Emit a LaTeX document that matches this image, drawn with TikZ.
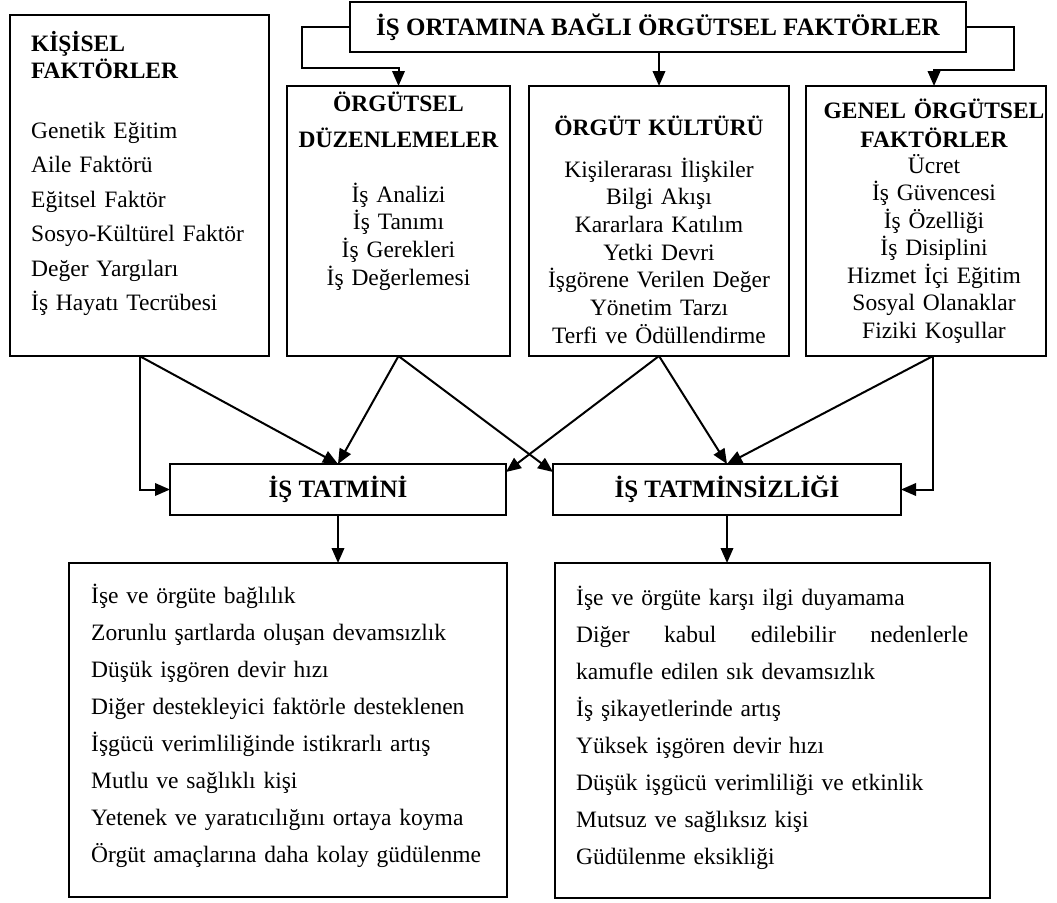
\documentclass[tikz,border=0pt]{standalone}
\usepackage{fontspec}
\setmainfont{Liberation Serif}
\usetikzlibrary{arrows.meta}

\tikzset{
  box/.style={draw, line width=2pt, rectangle, inner sep=0pt, outer sep=0pt, anchor=north west},
  boxtitle/.style={box, font=\bfseries\fontsize{25}{30}\selectfont},
  hd/.style={inner sep=0pt, outer sep=0pt, align=center, text width=#1,
             font=\bfseries\fontsize{23.5}{28}\selectfont},
  conn/.style={line width=2pt, -{Triangle[length=15pt,width=12.5pt]}},
}

\begin{document}
\begin{tikzpicture}[x=1pt, y=-1pt]
\useasboundingbox (0,0) rectangle (1057,902);

% --- frames ---------------------------------------------------------------
\node[boxtitle, minimum width=616pt, minimum height=50pt] (top) at (350,2)
  {İŞ ORTAMINA BAĞLI ÖRGÜTSEL FAKTÖRLER};
\node[box, minimum width=259pt, minimum height=341pt] (kis) at (10,15) {};
\node[box, minimum width=223pt, minimum height=270pt] (duz) at (287,86) {};
\node[box, minimum width=260pt, minimum height=270pt] (kul) at (529,86) {};
\node[box, minimum width=240pt, minimum height=270pt] (gen) at (806,86) {};
\node[boxtitle, minimum width=336pt, minimum height=51pt] (tat) at (170,464) {İŞ TATMİNİ};
\node[boxtitle, minimum width=348pt, minimum height=51pt] (tsz) at (553,464) {İŞ TATMİNSİZLİĞİ};
\node[box, minimum width=438pt, minimum height=334pt] (sonL) at (69,563) {};
\node[box, minimum width=435pt, minimum height=335pt] (sonR) at (555,563) {};

% --- texts inside the frames -----------------------------------------------
\node[hd=230pt, align=left, font=\bfseries\fontsize{23.5}{27}\selectfont, anchor=base west]
  (kisH) at (31,51) {KİŞİSEL\\FAKTÖRLER};
\node[inner sep=0pt, text width=232pt, align=left, anchor=base west,
      font=\fontsize{23.5}{34.5}\selectfont] (kisL) at (31,138)
  {Genetik Eğitim\\Aile Faktörü\\Eğitsel Faktör\\Sosyo-Kültürel Faktör\\Değer Yargıları\\İş Hayatı Tecrübesi};

\node[hd=215pt, font=\bfseries\fontsize{23.5}{36}\selectfont, anchor=base]
  (duzH) at (398.5,111) {ÖRGÜTSEL\\DÜZENLEMELER};
\node[inner sep=0pt, text width=215pt, align=center, anchor=base,
      font=\fontsize{23.5}{27.7}\selectfont] (duzL) at (398.5,202)
  {İş Analizi\\İş Tanımı\\İş Gerekleri\\İş Değerlemesi};

\node[hd=250pt, anchor=base] (kulH) at (659,135) {ÖRGÜT KÜLTÜRÜ};
\node[inner sep=0pt, text width=250pt, align=center, anchor=base,
      font=\fontsize{23.5}{27.7}\selectfont] (kulL) at (659,177)
  {Kişilerarası İlişkiler\\Bilgi Akışı\\Kararlara Katılım\\Yetki Devri\\İşgörene Verilen Değer\\Yönetim Tarzı\\Terfi ve Ödüllendirme};

\node[hd=236pt, font=\bfseries\fontsize{23.5}{29}\selectfont, anchor=base]
  (genH) at (934,118) {GENEL ÖRGÜTSEL\\FAKTÖRLER};
\node[inner sep=0pt, text width=236pt, align=center, anchor=base,
      font=\fontsize{23.5}{27.5}\selectfont] (genL) at (934,173)
  {Ücret\\İş Güvencesi\\İş Özelliği\\İş Disiplini\\Hizmet İçi Eğitim\\Sosyal Olanaklar\\Fiziki Koşullar};

\node[inner sep=0pt, text width=405pt, align=left, anchor=base west,
      font=\fontsize{23.5}{37}\selectfont] (sonLT) at (91,603)
  {İşe ve örgüte bağlılık\\Zorunlu şartlarda oluşan devamsızlık\\Düşük işgören devir hızı\\Diğer destekleyici faktörle desteklenen\\İşgücü verimliliğinde istikrarlı artış\\Mutlu ve sağlıklı kişi\\Yetenek ve yaratıcılığını ortaya koyma\\Örgüt amaçlarına daha kolay güdülenme};

% the second line is set justified to the full width of the column
\node[inner sep=0pt, text width=395pt, align=left, anchor=base west,
      font=\fontsize{23.5}{37.1}\selectfont] (sonRT) at (576,605)
  {İşe ve örgüte karşı ilgi duyamama\\\makebox[392pt][s]{Diğer\hfill kabul\hfill edilebilir\hfill nedenlerle}\\kamufle edilen sık devamsızlık\\İş şikayetlerinde artış\\Yüksek işgören devir hızı\\Düşük işgücü verimliliği ve etkinlik\\Mutsuz ve sağlıksız kişi\\Güdülenme eksikliği};

% --- bend points of the upper connectors ------------------------------------
\coordinate (bendL) at (302,68);
\coordinate (bendR) at (1014,70);

% --- connectors -------------------------------------------------------------
\draw[conn] (top.west) -| (bendL) -| (duz.north);
\draw[conn] (top.south -| kul.north) -- (kul.north);
\draw[conn] (top.east) -| (bendR) -| ([xshift=8pt]gen.north);

\draw[conn] (kis.south) |- (tat.west);
\draw[conn] (kis.south) -- (tat.north);
\draw[conn] (duz.south) -- (tat.north);
\draw[conn] (duz.south) -- ([yshift=-8pt]tsz.north west);
\draw[conn] (kul.south) -- ([yshift=-8pt]tat.north east);
\draw[conn] (kul.south) -- (tsz.north);
\draw[conn] ([xshift=7pt]gen.south) -- (tsz.north);
\draw[conn] ([xshift=7pt]gen.south) |- (tsz.east);

\draw[conn] (tat.south) -- (tat.south |- sonL.north);
\draw[conn] (tsz.south) -- (tsz.south |- sonR.north);
\end{tikzpicture}
\end{document}
